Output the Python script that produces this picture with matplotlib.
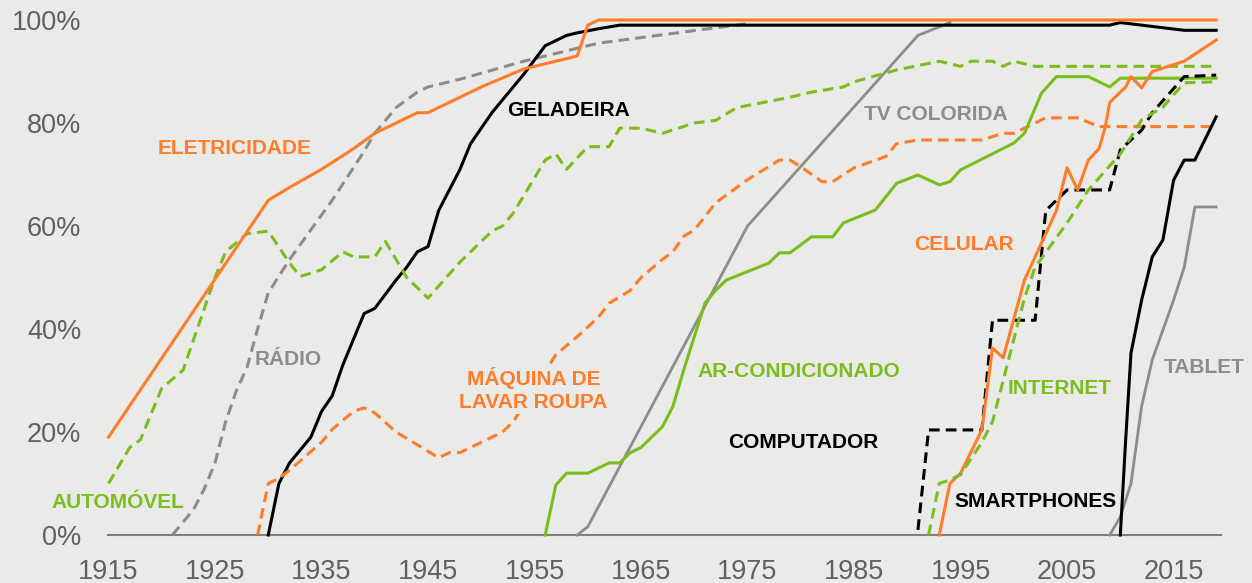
import matplotlib.pyplot as plt

plt.rcParams["font.family"] = ["Liberation Sans", "DejaVu Sans"]

BG = "#eaeae8"
ORANGE = "#ff7c2a"
GREEN = "#7cbd1e"
GRAY = "#8c8c8c"
BLACK = "#000000"
TICK = "#606060"

# adoption curves, % of US households
ELEC_YR = [1915, 1930, 1932, 1935, 1938, 1940, 1942, 1944, 1945, 1950, 1954, 1959, 1960, 1961, 2019]
ELEC = [19, 65, 67.5, 71, 75, 78, 80, 82, 82, 87, 90.5, 93, 99, 100, 100]

AUTO_YR = [1915, 1917, 1918, 1920, 1922, 1925, 1926, 1928, 1930, 1932, 1933, 1935, 1937, 1938,
           1940, 1941, 1943, 1945, 1948, 1951, 1952, 1953, 1956, 1957, 1958, 1960, 1962, 1963,
           1965, 1967, 1970, 1972, 1974, 1979, 1981, 1984, 1985, 1989, 1993, 1995, 1996, 1998,
           1999, 2000, 2002, 2019]
AUTO = [10, 17, 18.5, 28.5, 32, 50, 55, 58.5, 59, 52.8, 50.2, 51.5, 55, 54,
        54, 57, 50, 46, 53, 59, 60, 62.5, 72.8, 74, 71, 75.4, 75.4, 79,
        79, 78, 80, 80.5, 83, 85, 86, 87, 88, 90.3, 92, 91, 92, 92,
        91, 92, 91, 91]

RADIO_YR = [1921, 1922, 1923, 1924, 1925, 1926, 1927, 1928, 1929, 1930, 1932, 1936, 1939, 1940,
            1942, 1944, 1945, 1948, 1954, 1961, 1975]
RADIO = [0, 2.5, 5, 9, 14, 22, 28, 32.5, 40, 47, 53.5, 65, 74.5, 78,
         83, 86, 87, 88.5, 92, 95.5, 99.3]

FRIDGE_YR = [1930, 1931, 1932, 1934, 1935, 1936, 1937, 1939, 1940, 1942, 1943, 1944, 1945, 1946,
             1948, 1949, 1951, 1953, 1954, 1956, 1958, 1959, 1961, 1963, 2009, 2010, 2016, 2019]
FRIDGE = [0, 10, 14, 19, 24, 27, 33, 43, 44, 49.5, 52, 55, 56, 63,
          71, 76, 82, 87, 89.5, 95, 97, 97.5, 98.3, 99, 99, 99.5, 98, 98]

WASH_YR = [1929, 1930, 1931, 1932, 1935, 1936, 1938, 1939, 1940, 1942, 1944, 1946, 1947, 1948,
           1952, 1953, 1957, 1959, 1961, 1962, 1964, 1965, 1967, 1968, 1969, 1970, 1972, 1975,
           1978, 1979, 1980, 1982, 1983, 1985, 1988, 1989, 1991, 1997, 1999, 2000, 2002, 2003,
           2006, 2008, 2019]
WASH = [0, 10, 11, 12.6, 18, 20.5, 24, 24.7, 23.7, 20, 17.5, 15, 16, 16,
        20, 22, 35, 38.5, 42.3, 45, 47.5, 50, 53.5, 55, 58, 59.2, 64.5, 69,
        72.8, 72.8, 71.5, 68.6, 68.6, 71.3, 73.5, 76, 76.7, 76.7, 78, 78, 80, 81,
        81, 79.3, 79.3]

AC_YR = [1956, 1957, 1958, 1960, 1962, 1963, 1964, 1965, 1967, 1968, 1969, 1971, 1972, 1973,
         1977, 1978, 1979, 1981, 1983, 1984, 1987, 1989, 1991, 1993, 1994, 1995, 2000, 2001,
         2002.6, 2004, 2007, 2009, 2010, 2019]
AC = [0, 9.7, 12, 12, 14, 14, 16, 17, 21, 25, 32, 45, 47.5, 49.5,
      52.8, 54.8, 54.8, 57.9, 57.9, 60.6, 63.1, 68.3, 69.9, 68, 68.6, 70.9, 76.1, 78,
      85.8, 89, 89, 87, 88.7, 88.7]

TV_YR = [1959, 1960, 1975, 1991, 1994]
TV = [0, 1.6, 60, 97, 99.5]

PC_YR = [1991, 1992, 1997, 1998, 2002, 2003, 2005, 2009, 2010, 2012, 2013, 2016, 2019]
PC = [1, 20.4, 20.4, 41.7, 41.7, 63, 67, 67, 74.8, 78.6, 82, 89, 89.3]

CELL_YR = [1993, 1994, 1995, 1997, 1998, 1999, 2001, 2004, 2005, 2006, 2007, 2008, 2008.6, 2009,
           2010.5, 2011, 2012, 2013, 2016, 2019]
CELL = [0, 10, 12, 20.4, 36.3, 34.4, 49.5, 63, 71.3, 67, 72.8, 75, 79.3, 84,
        87, 89, 86.8, 90, 92, 96.1]

NET_YR = [1992, 1993, 1994, 1995, 1997, 1998, 1999, 2001, 2002, 2005, 2007, 2010, 2012, 2014, 2016, 2019]
NET = [0, 10, 10.7, 11.7, 18, 22, 30, 46, 52, 60.6, 67, 74, 80.6, 83.1, 87.8, 88]

SMART_YR = [2010, 2010.5, 2011, 2012, 2013, 2014, 2015, 2016, 2017, 2019]
SMART = [0, 18.4, 35.3, 45.6, 54, 57.3, 68.9, 72.8, 72.8, 81.2]

TABLET_YR = [2009, 2010, 2011, 2012, 2013, 2015, 2016, 2017, 2019]
TABLET = [0, 3.5, 10, 25, 34, 45.6, 52, 63.7, 63.7]

fig = plt.figure(figsize=(12.52, 5.83), dpi=100)
fig.patch.set_facecolor(BG)
ax = fig.add_axes([108.5 / 1252, 1 - 535 / 583, 1113 / 1252, 515 / 583])
ax.set_facecolor(BG)

DASH = (0, (3.5, 2))


def line(xs, ys, color, dashed=False, lw=2.2, z=3):
    ax.plot(xs, ys, color=color, lw=lw, linestyle=DASH if dashed else "-",
            zorder=z, clip_on=False, solid_joinstyle="round", dash_capstyle="butt")


line(TV_YR, TV, GRAY, lw=2.0, z=2)
line(TABLET_YR, TABLET, GRAY, lw=2.0, z=2)
line(RADIO_YR, RADIO, GRAY, dashed=True, z=2)
line(FRIDGE_YR, FRIDGE, BLACK, z=3)
line(ELEC_YR, ELEC, ORANGE, z=4)
line(AUTO_YR, AUTO, GREEN, dashed=True, z=3)
line(WASH_YR, WASH, ORANGE, dashed=True, z=3)
line(AC_YR, AC, GREEN, z=3)
line(PC_YR, PC, BLACK, dashed=True, z=3)
line(CELL_YR, CELL, ORANGE, z=4)
line(NET_YR, NET, GREEN, dashed=True, z=4)
line(SMART_YR, SMART, BLACK, z=3)

# series labels
LABELS = [
    ("ELETRICIDADE", 1926.8, 75.1, ORANGE),
    ("GELADEIRA", 1958.2, 82.5, BLACK),
    ("TV COLORIDA", 1992.7, 81.6, GRAY),
    ("RÁDIO", 1931.9, 34.0, GRAY),
    ("AUTOMÓVEL", 1915.9, 6.4, GREEN),
    ("AR-CONDICIONADO", 1979.8, 31.8, GREEN),
    ("COMPUTADOR", 1980.2, 18.0, BLACK),
    ("CELULAR", 1995.3, 56.5, ORANGE),
    ("INTERNET", 2004.3, 28.5, GREEN),
    ("SMARTPHONES", 2002.0, 6.6, BLACK),
    ("TABLET", 2017.9, 32.6, GRAY),
]
for txt, x, y, c in LABELS:
    ax.text(x, y, txt, color=c, fontsize=15, fontweight="bold",
            ha="center", va="center", zorder=6, clip_on=False)

ax.text(1954.9, 28.2, "MÁQUINA DE\nLAVAR ROUPA", color=ORANGE, fontsize=15,
        fontweight="bold", ha="center", va="center", zorder=6, linespacing=1.25,
        bbox=dict(boxstyle="square,pad=0.1", fc=BG, ec="none"))

ax.set_xlim(1915, 2019.5)
ax.set_ylim(0, 100)
ax.set_xticks(range(1915, 2016, 10))
ax.set_yticks(range(0, 101, 20))
ax.set_yticklabels([f"{v}%" for v in range(0, 101, 20)])
ax.tick_params(length=0, labelsize=19.5, colors=TICK)
ax.tick_params(axis="y", pad=19.5)
ax.tick_params(axis="x", pad=17.5)
for s in ["top", "right", "left"]:
    ax.spines[s].set_visible(False)
ax.spines["bottom"].set_color("#7f7f7f")
ax.spines["bottom"].set_linewidth(1.5)
ax.spines["bottom"].set_zorder(1)

fig.savefig("out.png", dpi=100, facecolor=BG)
